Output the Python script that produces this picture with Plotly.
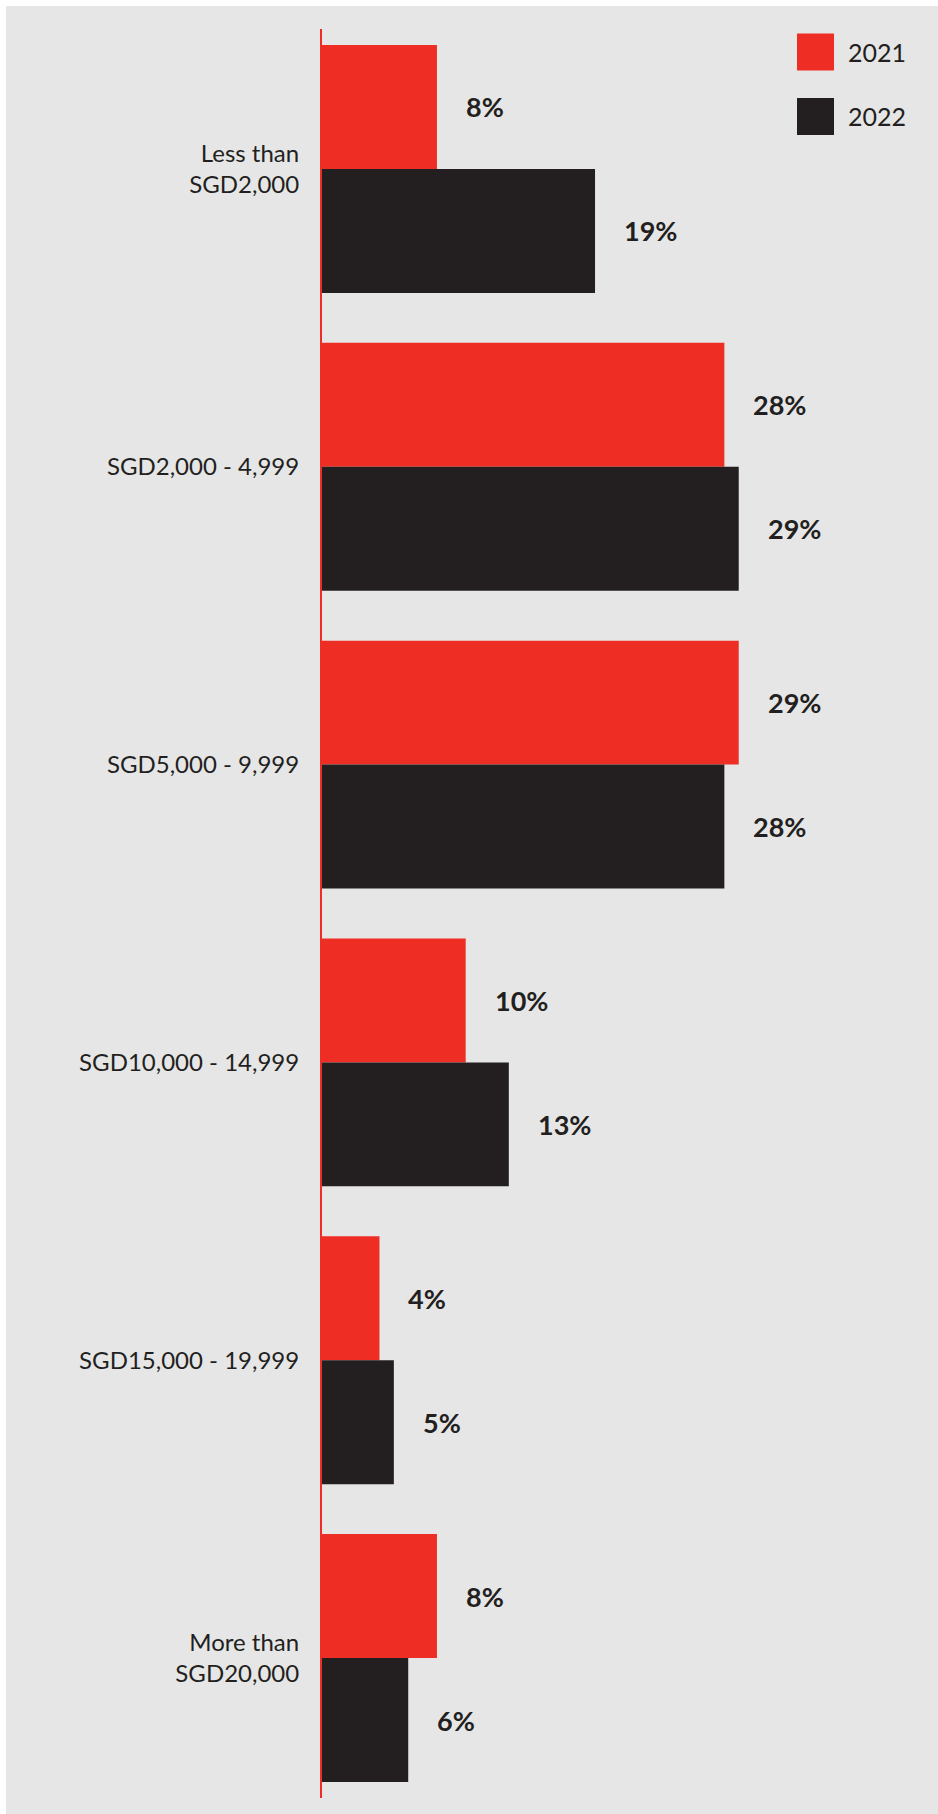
import plotly.graph_objects as go

# Monthly household income bands and share of respondents (%)
categories = [
    "Less than<br>SGD2,000",
    "SGD2,000 - 4,999",
    "SGD5,000 - 9,999",
    "SGD10,000 - 14,999",
    "SGD15,000 - 19,999",
    "More than<br>SGD20,000",
]
years = ["2021", "2022"]
share_2021 = [8, 28, 29, 10, 4, 8]
share_2022 = [19, 29, 28, 13, 5, 6]

RED = "#ee2e24"
BLACK = "#231f20"
BG = "#e6e6e6"
FONT = "Lato"

W, H = 938, 1814
M_L, M_R, M_T, M_B = 322, 0, 29, 16
PX_PER_PCT = 14.37
PLOT_W = W - M_L - M_R
PLOT_H = H - M_T - M_B


def px_x(px):
    """Pixel column -> paper x."""
    return (px - M_L) / PLOT_W


def px_y(py):
    """Pixel row -> paper y."""
    return (H - M_B - py) / PLOT_H


fig = go.Figure()
for name, vals, col in [(years[0], share_2021, RED), (years[1], share_2022, BLACK)]:
    fig.add_trace(go.Bar(
        y=categories, x=vals, name=name, orientation="h",
        marker=dict(color=col, line=dict(width=0)),
        hoverinfo="x+y",
    ))

# value labels beside each bar
half_bar = 62
for vals, shift in [(share_2021, half_bar), (share_2022, -half_bar)]:
    for cat, v in zip(categories, vals):
        fig.add_annotation(
            x=v, y=cat, xref="x", yref="y",
            text=f"<b>{v}%</b>", showarrow=False,
            xanchor="left", yanchor="middle",
            xshift=27, yshift=shift,
            font=dict(family=FONT, size=27, color=BLACK, weight=800),
        )

# legend swatches and labels
shapes = []
for i, (name, col) in enumerate([(years[0], RED), (years[1], BLACK)]):
    top = 33.5 + i * 64.5
    shapes.append(dict(
        type="rect", xref="paper", yref="paper",
        x0=px_x(797), x1=px_x(834), y0=px_y(top + 37), y1=px_y(top),
        fillcolor=col, line=dict(width=0), layer="above",
    ))
    fig.add_annotation(
        x=px_x(846), y=px_y(top + 18.5), xref="paper", yref="paper",
        text=name, showarrow=False, xanchor="left", yanchor="middle",
        font=dict(family=FONT, size=25, color=BLACK, weight=400),
    )

# thin white frame on top and left edges
shapes.append(dict(type="rect", xref="paper", yref="paper",
                   x0=px_x(0), x1=px_x(6), y0=px_y(H), y1=px_y(0),
                   fillcolor="white", line=dict(width=0), layer="above"))
shapes.append(dict(type="rect", xref="paper", yref="paper",
                   x0=px_x(0), x1=px_x(W), y0=px_y(6), y1=px_y(0),
                   fillcolor="white", line=dict(width=0), layer="above"))

fig.update_layout(
    width=W, height=H,
    margin=dict(l=M_L, r=M_R, t=M_T, b=M_B, pad=0),
    paper_bgcolor=BG, plot_bgcolor=BG,
    barmode="group", bargap=0.1675, bargroupgap=0,
    showlegend=False,
    shapes=shapes,
    font=dict(family=FONT, color=BLACK),
    xaxis=dict(range=[0, PLOT_W / PX_PER_PCT], visible=False, fixedrange=True),
    yaxis=dict(
        type="category", range=[5.47, -0.47],
        showgrid=False, zeroline=False,
        showline=True, linecolor=RED, linewidth=2,
        ticks="outside", ticklen=16, tickcolor="rgba(0,0,0,0)",
        tickfont=dict(family=FONT, size=24, color=BLACK, weight=400),
        fixedrange=True,
    ),
)

fig.write_html("out.html")
